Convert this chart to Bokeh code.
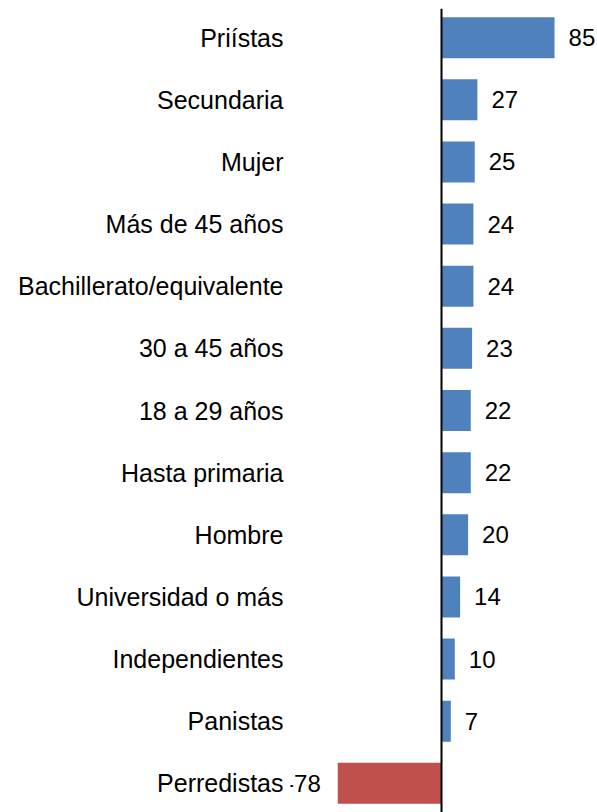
from bokeh.plotting import figure
from bokeh.models import ColumnDataSource, FactorRange, Span
from bokeh.core.properties import value
from bokeh.embed import file_html
from bokeh.resources import INLINE

categories = ["Priístas", "Secundaria", "Mujer", "Más de 45 años",
              "Bachillerato/equivalente", "30 a 45 años", "18 a 29 años",
              "Hasta primaria", "Hombre", "Universidad o más",
              "Independientes", "Panistas", "Perredistas"]
values = [85, 27, 25, 24, 24, 23, 22, 22, 20, 14, 10, 7, -78]

BLUE = "#4F81BD"
RED = "#C0504D"
FONT = "Liberation Sans"

colors = [BLUE if v >= 0 else RED for v in values]
labels = [str(v) for v in values]
pos = [v >= 0 for v in values]

src_pos = ColumnDataSource(dict(
    cat=[c for c, p in zip(categories, pos) if p],
    val=[v for v, p in zip(values, pos) if p],
    lab=[l for l, p in zip(labels, pos) if p]))
src_neg = ColumnDataSource(dict(
    cat=[c for c, p in zip(categories, pos) if not p],
    val=[v for v, p in zip(values, pos) if not p],
    lab=[l for l, p in zip(labels, pos) if not p]))
src_all = ColumnDataSource(dict(cat=categories, val=values, color=colors))

W, H = 597, 812
frame_left = 290
zero_px = 441
ppu = 1.33
x_start = -(zero_px - frame_left) / ppu
x_end = (W - zero_px) / ppu

p = figure(width=W, height=H, output_backend="svg", toolbar_location=None,
           y_range=FactorRange(factors=list(reversed(categories)),
                               range_padding=-0.03, range_padding_units="absolute"),
           x_range=(x_start, x_end),
           min_border_left=frame_left, min_border_right=0,
           min_border_top=8, min_border_bottom=0)

p.hbar(y="cat", right="val", left=0, height=0.66, color="color",
       line_color=None, source=src_all)

p.add_layout(Span(location=0, dimension="height", line_color="black",
                  line_width=2))

p.text(x="val", y="cat", text="lab", source=src_pos, x_offset=14,
       text_align="left", text_baseline="middle",
       text_font=value(FONT), text_font_size="24px", text_color="black")
p.text(x="val", y="cat", text="lab", source=src_neg, x_offset=-17,
       text_align="right", text_baseline="middle",
       text_font=value(FONT), text_font_size="24px", text_color="black")

p.xaxis.visible = False
p.yaxis.axis_line_color = None
p.yaxis.major_tick_line_color = None
p.yaxis.minor_tick_line_color = None
p.yaxis.major_tick_out = 0
p.yaxis.major_tick_in = 0
p.yaxis.major_label_standoff = 7
p.yaxis.major_label_text_font = FONT
p.yaxis.major_label_text_font_size = "25px"
p.yaxis.major_label_text_color = "black"
p.xgrid.visible = False
p.ygrid.visible = False
p.outline_line_color = None
p.background_fill_color = "white"
p.border_fill_color = "white"

open("out.html", "w").write(file_html(p, INLINE))
